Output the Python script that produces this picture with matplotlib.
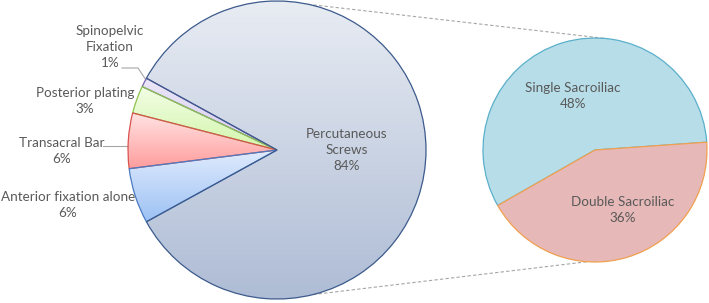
import numpy as np
import matplotlib
matplotlib.use("Agg")
import matplotlib.pyplot as plt
from matplotlib.colors import LinearSegmentedColormap

# data (percent of all cases)
main_labels = ["Spinopelvic\nFixation", "Posterior plating", "Transacral Bar",
               "Anterior fixation alone", "Percutaneous\nScrews"]
main_values = [1, 3, 6, 6, 84]
sub_labels = ["Single Sacroiliac", "Double Sacroiliac"]
sub_values = [48, 36]

# style
W, H = 709, 303
TXT = "#595959"
FONT = "Lato"
FS = 9.7
LS = 1.42
main_grad = [("#ebe6f8", "#d5cbef"), ("#f2fde4", "#d3f6ac"), ("#ffe3e3", "#ff9c9c"),
             ("#e0ebfd", "#9cc1f4"), ("#e8ecf3", "#aebcd5")]
main_edges = ["#7a62b0", "#8cc34e", "#d9534f", "#4a7bc4", "#3c5a8c"]
sub_faces = ["#b7dde8", "#e6b8b7"]
sub_edges = ["#5ab0cb", "#f0a050"]

main_c, main_r = (277, 153), 149
sub_c, sub_r = (595, 153), 112

plt.rcParams["font.family"] = [FONT, "DejaVu Sans"]
fig = plt.figure(figsize=(W / 100, H / 100), dpi=100)
ax = fig.add_axes([0, 0, 1, 1])

# main pie, small slices centred on the left
start = 180 - sum(main_values[:4]) / sum(main_values) * 360 / 2
wedges, _ = ax.pie(main_values, radius=main_r, center=main_c, startangle=start,
                   counterclock=True,
                   wedgeprops=dict(linewidth=0.9))
for w, (c0, c1), ec in zip(wedges, main_grad, main_edges):
    w.set_facecolor("none")
    w.set_edgecolor(ec)
    w.set_zorder(3)
    ext = w.get_path().get_extents(w.get_patch_transform())
    cmap = LinearSegmentedColormap.from_list("g", [c1, c0])
    grad = np.linspace(0, 1, 256).reshape(-1, 1)
    im = ax.imshow(grad, cmap=cmap, origin="lower", aspect="auto",
                   extent=(ext.x0, ext.x1, ext.y0, ext.y1), zorder=2)
    im.set_clip_path(w)

# breakdown pie
swedges, _ = ax.pie(sub_values, radius=sub_r, center=sub_c, startangle=4,
                    counterclock=True, colors=sub_faces,
                    wedgeprops=dict(linewidth=0.9))
for w, ec in zip(swedges, sub_edges):
    w.set_edgecolor(ec)
    w.set_zorder(3)

# connector lines
for a_main, a_sub in [(78, 84), (-76, 266)]:
    p0 = (main_c[0] + main_r * np.cos(np.radians(a_main)),
          main_c[1] + main_r * np.sin(np.radians(a_main)))
    p1 = (sub_c[0] + sub_r * np.cos(np.radians(a_sub)),
          sub_c[1] + sub_r * np.sin(np.radians(a_sub)))
    ax.plot([p0[0], p1[0]], [p0[1], p1[1]], ls=(0, (3, 2)), color="#a6a6a6",
            lw=0.8, zorder=1)

# labels
ax.text(347, H - 150, f"{main_labels[4]}\n{main_values[4]}%", ha="center",
        va="center", color=TXT, fontsize=FS, linespacing=LS, zorder=5)
outer_pos = [(110, 47), (85, 101), (62, 151), (68, 205)]
for lab, v, (x, y) in zip(main_labels[:4], main_values[:4], outer_pos):
    ax.text(x, H - y, f"{lab}\n{v}%", ha="center", va="center", color=TXT,
            fontsize=FS, linespacing=LS, zorder=5)
# leader lines
ax.plot([122, 138, 146], [H - 68, H - 68, H - 80], color="#a6a6a6", lw=0.8)
ax.plot([103, 128], [H - 146, H - 146], color="#a6a6a6", lw=0.8)

for lab, v, (x, y) in zip(sub_labels, sub_values, [(573, 96), (623, 210)]):
    ax.text(x, H - y, f"{lab}\n{v}%", ha="center", va="center", color=TXT,
            fontsize=FS, linespacing=LS, zorder=5)

ax.set_xlim(0, W)
ax.set_ylim(0, H)
ax.set_aspect("equal")
ax.axis("off")
fig.savefig("out.png", dpi=100)
